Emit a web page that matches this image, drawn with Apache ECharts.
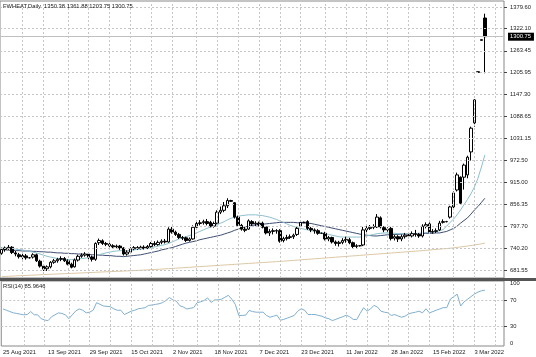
<!DOCTYPE html>
<html><head><meta charset="utf-8">
<script src="https://cdn.jsdelivr.net/npm/echarts@6/dist/echarts.min.js"></script>
<style>html,body{margin:0;padding:0;background:#fff}#c{width:536px;height:357px}</style>
</head><body><div id="c"></div>
<script>
// ---- DATA ----
const opens = [726,736,740,742,727,722,716,719,714,716,722,705,692,685,690,702,706,710,712,706,697,690,708,718,721,724,716,710,754,759,752,750,746,743,745,740,724,729,738,741,739,742,740,744,752,749,755,758,756,790,782,776,768,767,760,764,795,805,807,810,808,798,806,835,840,852,866,860,822,800,790,790,810,804,806,806,796,780,784,786,786,760,765,768,770,776,798,808,810,792,788,786,779,779,764,768,756,752,755,760,762,754,744,746,748,788,792,795,796,820,794,788,792,766,770,764,770,774,772,778,776,772,798,804,782,784,788,808,810,822,849,894,928,928,934,995,1072,1206,1291,1350.38];
const highs = [741,744,748,745,732,727,725,724,716,726,725,709,697,694,705,711,714,718,716,710,701,712,722,726,729,727,720,755,765,763,756,754,750,749,748,742,734,742,745,745,746,747,748,756,758,760,763,764,795,796,786,780,772,770,768,800,810,814,815,817,812,810,840,850,862,872,868,862,826,804,796,816,814,811,810,810,798,790,792,790,790,770,775,776,778,796,814,810,814,796,792,790,781,783,772,770,760,759,766,770,767,757,750,748,796,798,801,803,830,824,798,795,796,775,774,776,780,780,784,788,780,803,808,808,790,792,812,816,812,852,890,940,930,964,985,1062,1135,1208,1293,1361.88];
const lows = [722,730,735,724,718,712,710,709,712,712,703,688,679,679,686,698,701,705,703,694,686,688,704,714,717,710,704,706,748,748,745,742,738,738,735,720,720,725,734,735,736,736,737,741,745,746,750,752,754,778,772,764,761,756,757,762,790,800,802,800,795,794,803,830,835,846,862,818,796,786,782,788,798,798,797,792,776,772,776,778,754,755,760,764,764,772,796,806,788,782,778,775,777,760,758,752,746,744,750,754,750,740,740,744,745,782,788,790,793,792,782,783,760,760,756,758,765,766,768,770,767,768,792,778,778,780,785,805,808,818,846,890,855,895,925,972,1062,1206,1291,1203.75];
const closes = [736,740,742,728,724,717,720,714,714,722,706,692,684,690,702,706,710,712,706,697,689,708,718,721,724,716,710,752,760,752,750,746,743,745,740,724,729,738,741,739,742,740,744,752,749,755,758,756,790,782,776,768,766,760,764,795,805,807,810,805,798,805,835,840,852,866,864,822,800,790,787,812,804,806,802,795,780,784,786,785,758,765,768,770,774,792,808,808,792,788,786,779,779,764,768,756,752,755,760,763,754,744,746,746,788,792,795,797,822,796,788,790,765,770,764,770,774,772,778,776,772,798,802,782,784,786,806,810,810,849,886,934,859,960,981,1058,1133,1208,1293,1300.75];
const maFast = [740,739,739,738,737,736,735,733,731,729,727,724,721,718,716,714,712,711,710,709,709,710,711,712,713,714,716,719,722,725,727,729,731,732,733,733,733,734,735,736,737,738,739,741,743,745,747,749,752,756,760,764,767,770,773,776,780,784,788,792,795,798,802,806,810,815,819,822,824,826,827,828,828,828,827,826,824,822,819,816,812,808,804,800,797,794,792,790,788,786,784,782,780,778,776,774,772,770,769,769,769,769,769,769,770,772,774,776,778,779,780,780,780,779,778,778,778,778,778,778,779,780,781,782,783,784,786,789,798,808,817,828,841,855,869,884,902,925,955,987];
const maSlow = [735,735,734,734,733,733,732,732,732,731,731,730,730,729,729,728,727,727,726,726,725,725,724,724,723,723,722,722,721,721,720,720,719,718,718,717,718,719,720,721,722,724,726,728,730,732,735,737,739,741,744,747,750,753,755,757,759,762,764,766,768,770,772,774,777,780,783,787,790,793,796,798,800,801,802,803,804,805,806,807,808,808,808,808,808,807,807,806,806,805,803,801,799,797,795,793,791,789,787,785,783,781,779,777,775,774,773,772,772,773,774,775,775,776,776,777,777,777,778,778,778,778,779,779,779,780,780,782,784,788,792,798,806,813,820,830,841,850,861,872];
const maLong = [664,664.5,665,665.5,666,666.4,666.8,667.2,667.6,668,668.5,669,669.4,669.8,670.2,670.6,671,671.4,671.8,672.2,672.6,673,673.4,673.8,674.2,674.6,675,675.5,676,676.4,676.8,677.2,677.6,678,678.4,678.8,679.2,679.6,680,680.5,681,681.5,682,682.5,683,683.5,684,684.6,685.2,685.8,686.4,687,687.6,688.2,688.8,689.4,690,690.6,691.2,691.8,692.4,693,693.6,694.2,694.8,695.4,696,696.6,697.2,697.8,698.4,699,699.6,700.2,700.8,701.4,702,702.6,703.2,703.8,704.4,705,705.7,706.4,707.1,707.8,708.5,709.2,709.9,710.6,711.3,712,712.7,713.4,714.1,714.8,715.5,716.2,716.9,717.6,718.3,719,719.7,720.4,721.1,721.8,722.5,723.2,723.9,724.6,725.3,726,726.7,727.4,728.1,728.8,729.5,730.2,730.9,731.6,732.3,733,733.8,734.6,735.4,736.2,737,737.8,738.6,739.4,740.4,741.6,742.8,744,745.3,746.6,748,749.5,751,753];
const rsi = [57,55,53,51,50,49,48,48.5,53,48,48,42,40,39,45,48,51,50,48,42,48,54,57,55,51,52,55,66.7,64,61.5,61,60.4,57,55,55,48.4,51,53.6,55,57.3,58,59,62.5,63,64,65,66.7,70,74.5,71,69,62,60,57,58,59,66.7,68,70,74,67,70.8,71,72,75,78,72,64,47,47,47.5,54.7,53,52,52,52,47,44.3,45.8,47.4,39.6,41,43,45,47,53.6,57.3,55,48.4,48.5,48.4,47,45.8,43.2,42,39.1,41,43.2,45,47.4,45,41,40.6,50,58.9,53.6,57,62.5,60,53.6,52,51,47,48.4,46,44.3,46,49.4,51,52,53.6,51,57.3,51,53,55.2,57,59,59,72,76,79.7,61.5,68,72,76,80,83,85,85.96];
const priceTicks = [681.55,740.20,797.70,856.35,915.00,972.50,1031.15,1088.65,1147.30,1205.95,1263.45,1322.10,1379.60];
const rsiLevels = [30,70];
const rsiLabelText = ['100','70','30','0'];
const labelBars = [0,13,25,37,49,61,74,86,99,112,124,136];
const labelTexts = ['25 Aug 2021','13 Sep 2021','29 Sep 2021','15 Oct 2021','2 Nov 2021','18 Nov 2021','7 Dec 2021','23 Dec 2021','11 Jan 2022','28 Jan 2022','15 Feb 2022','3 Mar 2022'];
const lastPrice = 1300.75;
const titleText = 'FWHEAT,Daily  1350.38 1361.88 1203.75 1300.75';
const rsiTitle = 'RSI(14) 85.9646';

// ---- BUILD ----
const SLOTS = 145;
const cats = Array.from({length: SLOTS}, (_, i) => i);
const candles = opens.map((o, i) => [o, closes[i], lows[i], highs[i]]);
const vGridBars = [];
for (let k = 1; k <= 23; k++) vGridBars.push(Math.round(6.171 * k));
const FONT = 'Liberation Sans';
const FS = 5.8;
const txt = {fontFamily: FONT, fontSize: FS, color: '#222'};
const dotted = {color: '#c6c6c6', type: [2, 2], width: 1};
// label slots in RSI pane (values inside the 0..100 scale)
const rsiLabelVals = [96, 70, 30];

const chart = echarts.init(document.getElementById('c'), null, {renderer: 'canvas'});
chart.setOption({
  animation: false,
  backgroundColor: '#fff',
  title: [
    {text: titleText, left: 3, top: 3, padding: 0, textStyle: Object.assign({fontWeight: 'normal'}, txt)},
    {text: rsiTitle, left: 3, top: 283, padding: 0, textStyle: Object.assign({fontWeight: 'normal'}, txt)},
    {text: rsiLabelText[3], left: 510, top: 340, padding: 0, textStyle: Object.assign({fontWeight: 'normal'}, txt)}
  ],
  grid: [
    {left: 0, top: 1, width: 504, height: 277, show: true, borderColor: '#888', borderWidth: 1},
    {left: 0, top: 281, width: 504, height: 65, show: true, borderColor: '#888', borderWidth: 1}
  ],
  xAxis: [
    {type: 'category', gridIndex: 0, data: cats, boundaryGap: true,
     axisLine: {show: false}, axisTick: {show: false}, axisLabel: {show: false}, splitLine: {show: false}},
    {type: 'category', gridIndex: 1, data: cats, boundaryGap: true,
     axisLine: {show: false}, axisTick: {show: false}, splitLine: {show: false},
     axisLabel: Object.assign({show: true, interval: (i) => labelBars.includes(i), align: 'left', margin: 3,
       formatter: (v) => { const j = labelBars.indexOf(Number(v)); return j >= 0 ? labelTexts[j] : ''; }}, txt)}
  ],
  yAxis: [
    {type: 'value', gridIndex: 0, position: 'right', min: 660.37, max: 1395.52,
     axisLine: {show: false}, splitLine: {show: false},
     axisTick: {show: true, length: 3, customValues: priceTicks, lineStyle: {color: '#444'}},
     axisLabel: Object.assign({customValues: priceTicks, margin: 6, formatter: (v) => v.toFixed(2)}, txt)},
    {type: 'value', gridIndex: 1, position: 'right', min: 0, max: 100,
     axisLine: {show: false}, splitLine: {show: false},
     axisTick: {show: true, length: 3, customValues: rsiLevels, lineStyle: {color: '#444'}},
     axisLabel: Object.assign({customValues: rsiLabelVals, margin: 6,
       formatter: (v) => rsiLabelText[rsiLabelVals.indexOf(v)]}, txt)}
  ],
  series: [
    {type: 'line', xAxisIndex: 0, yAxisIndex: 0, data: maLong, symbol: 'none', lineStyle: {color: '#dcc7a4', width: 1}, z: 2,
     markLine: {silent: true, symbol: 'none', animation: false, label: {show: false}, lineStyle: dotted,
       data: priceTicks.map(v => ({yAxis: v})).concat(vGridBars.map(i => ({xAxis: i})))}},
    {type: 'line', xAxisIndex: 0, yAxisIndex: 0, data: maSlow, symbol: 'none', lineStyle: {color: '#3e4e72', width: 1}, z: 2},
    {type: 'line', xAxisIndex: 0, yAxisIndex: 0, data: maFast, symbol: 'none', lineStyle: {color: '#8cc0cf', width: 1}, z: 2},
    {type: 'candlestick', xAxisIndex: 0, yAxisIndex: 0, data: candles, barWidth: 3, z: 3,
     itemStyle: {color: '#fff', color0: '#000', borderColor: '#000', borderColor0: '#000', borderWidth: 1},
     markLine: {silent: true, symbol: 'none', animation: false,
       data: [{yAxis: lastPrice}],
       lineStyle: {color: '#c0c0c0', type: 'solid', width: 1},
       label: {show: true, position: 'end', distance: 4, formatter: () => lastPrice.toFixed(2),
         backgroundColor: '#000', color: '#fff', fontFamily: FONT, fontSize: FS, padding: [1, 3, 1, 2]}}},
    {type: 'line', xAxisIndex: 1, yAxisIndex: 1, data: rsi, symbol: 'none', lineStyle: {color: '#7fb0cf', width: 1}, z: 2,
     markLine: {silent: true, symbol: 'none', animation: false, label: {show: false}, lineStyle: dotted,
       data: rsiLevels.map(v => ({yAxis: v})).concat(vGridBars.map(i => ({xAxis: i})))}}
  ],
  graphic: [
    {type: 'rect', shape: {x: 0, y: 278, width: 536, height: 3}, style: {fill: '#555'}, z: 100}
  ]
});
</script>
</body></html>
